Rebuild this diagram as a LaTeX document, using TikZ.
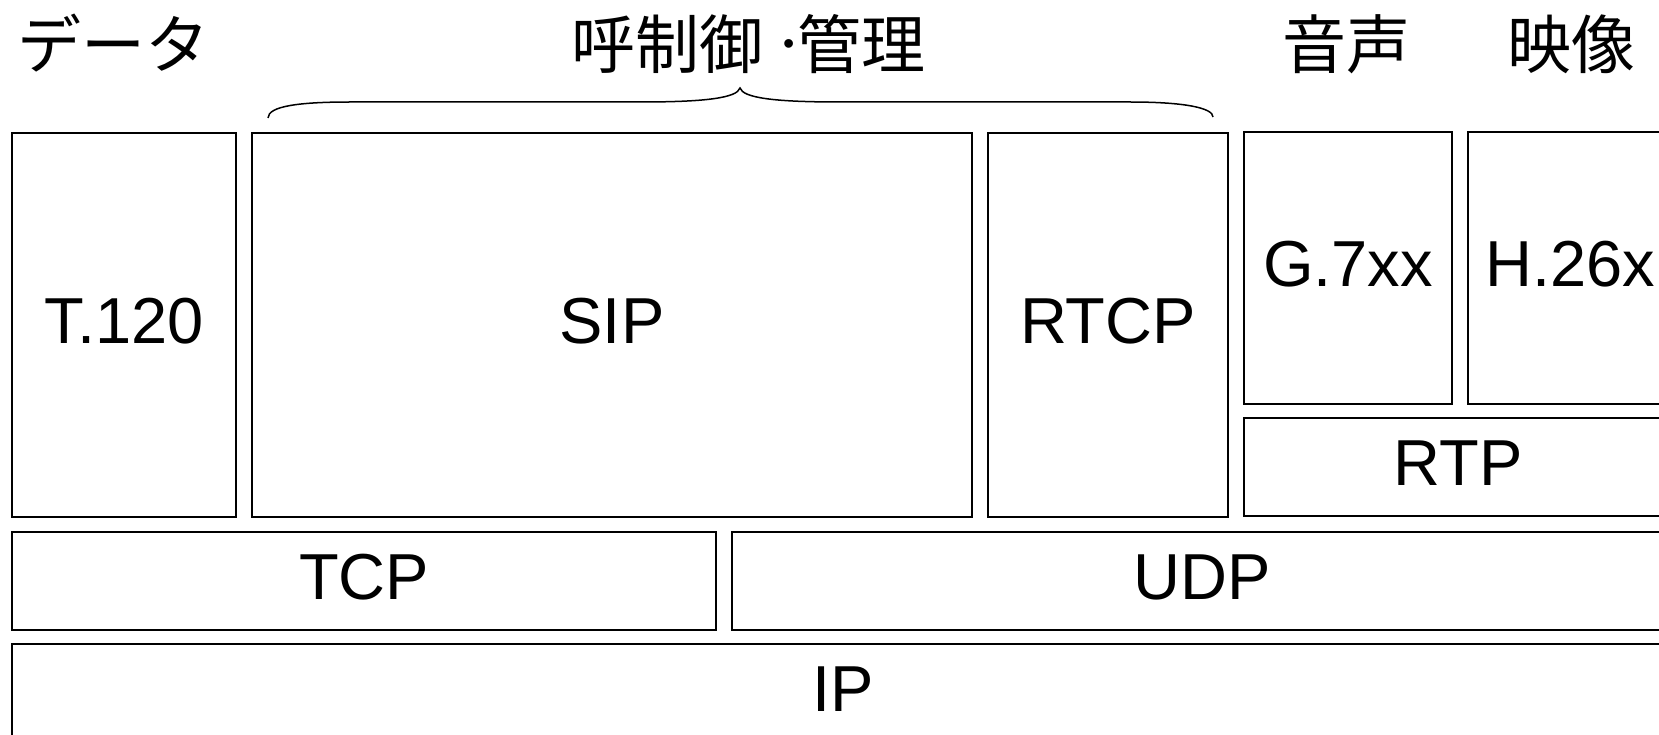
\documentclass[tikz,border=0pt]{standalone}
\usepackage{fontspec}
\setmainfont{Liberation Sans}
\newfontfamily\cjk{Noto Sans CJK JP}
\begin{document}
\begin{tikzpicture}[x=1pt,y=-1pt,
  layer/.style={draw, line width=1.6pt, inner sep=0pt,
    font=\fontsize{65}{78}\selectfont, text height=46.5pt, text depth=10pt},
  sz/.style 2 args={minimum width=#1pt, minimum height=#2pt},
  head/.style={inner sep=0pt, font=\cjk\fontsize{64}{76}\selectfont},
  bracepath/.style={draw, line width=1.5pt}]
\useasboundingbox (0,0) rectangle (1659,735);
\clip (0,0) rectangle (1659,735);
% headings
\node[head, anchor=base] (hdata) at (113,69) {データ};
\node[head, anchor=base west] (hctrl) at (571,69) {呼制御\hspace{20pt}\raisebox{14pt}{\normalfont\fontsize{32}{32}\selectfont •}\hspace{3pt}管理};
\node[head, anchor=base] (hvoice) at (1346,69) {音声};
\node[head, anchor=base] (hvideo) at (1571,69) {映像};
% brace
\draw[bracepath] (268,118) .. controls (268,106) and (300,102) .. (350,102)
  -- (640,102) .. controls (705,102) and (737,98) .. (740,88)
  .. controls (743,98) and (775,102) .. (840,102)
  -- (1130,102) .. controls (1185,102) and (1213,108) .. (1213,117);
% layers
\node[layer, sz={224}{384}] (t120) at (124,325) {T.120};
\node[layer, sz={720}{384}] (sip) at (612,325) {SIP};
\node[layer, sz={240}{384}] (rtcp) at (1108,325) {RTCP};
\node[layer, sz={208}{272}] (g7xx) at (1348,268) {G.7xx};
\node[layer, sz={204}{272}] (h26x) at (1570,268) {H.26x};
\node[layer, sz={428}{98}] (rtp) at (1458,467) {RTP};
\node[layer, sz={704}{98}] (tcp) at (364,581) {TCP};
\node[layer, sz={940}{98}] (udp) at (1202,581) {UDP};
\node[layer, sz={1662}{98}] (ip) at (843,693) {IP};
\end{tikzpicture}
\end{document}
